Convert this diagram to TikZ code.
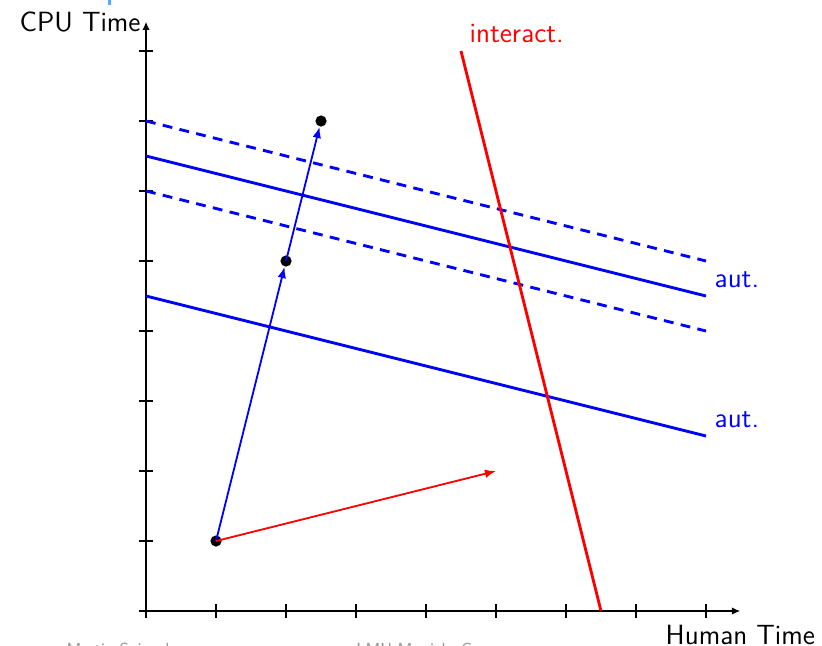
\documentclass[tikz,border=0pt]{standalone}
\usetikzlibrary{arrows.meta}
\definecolor{footgray}{RGB}{150,150,150}
\definecolor{titleblue}{RGB}{80,170,255}
\begin{document}
\begin{tikzpicture}[
  font=\sffamily\fontsize{11.3}{13.5}\selectfont,
  axisline/.style={line width=0.6pt,-{Latex[length=3.4pt,width=3pt]}},
  tickmark/.style={line width=0.6pt},
  dot/.style={circle,fill=black,inner sep=0pt,minimum size=0.16cm},
  autline/.style={blue,line width=1.15pt},
  autdash/.style={blue,line width=1.15pt,dash pattern=on 4pt off 3pt},
  interline/.style={red,line width=1.15pt},
  bluevec/.style={blue,line width=0.75pt,-{Latex[length=4.5pt,width=3.5pt]}},
  redvec/.style={red,line width=0.75pt,-{Latex[length=4.5pt,width=3.5pt]}},
  footer/.style={text=footgray,font=\sffamily\fontsize{6.5}{8}\selectfont,anchor=base}
]
\useasboundingbox (-2.086,-0.486) rectangle (9.657,8.729);
% fragment of title
\fill[titleblue] (-0.543,8.657) rectangle (-0.5,8.729);
% axes
\coordinate (O) at (0,0);
\coordinate (xend) at (8.49,0);
\coordinate (yend) at (0,8.42);
\draw[axisline] (O) -- (xend);
\draw[axisline] (O) -- (yend);
\foreach \i in {0,...,8} {
  \draw[tickmark] (\i,-0.1) -- (\i,0.1);
  \draw[tickmark] (-0.1,\i) -- (0.1,\i);
}
\node[left,inner sep=2pt] (ylab) at (yend) {CPU Time};
\node[below,inner sep=2pt] (xlab) at (8.49,-0.12) {Human Time};
% automatic lines
\coordinate (a1s) at (0,4.5); \coordinate (a1e) at (8,2.5);
\coordinate (a2s) at (0,6.5); \coordinate (a2e) at (8,4.5);
\coordinate (d1s) at (0,7);   \coordinate (d1e) at (8,5);
\coordinate (d2s) at (0,6);   \coordinate (d2e) at (8,4);
\draw[autdash] (d1s) -- (d1e);
\draw[autdash] (d2s) -- (d2e);
\draw[autline] (a1s) -- (a1e);
\draw[autline] (a2s) -- (a2e);
\node[above right,text=blue] (aut1) at (a2e) {aut.};
\node[above right,text=blue] (aut2) at (a1e) {aut.};
% interactive line
\coordinate (r1) at (4.5,8); \coordinate (r2) at (6.5,0);
\draw[interline] (r1) -- (r2);
\node[above right,text=red] (ilab) at (r1) {interact.};
% points and vectors
\node[dot] (p1) at (1,1) {};
\node[dot] (p2) at (2,5) {};
\node[dot] (p3) at (2.5,7) {};
\coordinate (rend) at (5,2);
\draw[bluevec] (p1.center) -- (p2);
\draw[bluevec] (p2.center) -- (p3);
\draw[redvec] (p1.center) -- (rend);
% footer (cut off)
\node[footer] (f1) at (-0.4,-0.615) {Martin Spiegel};
\node[footer] (f2) at (4.2,-0.615) {LMU Munich, Germany};
\end{tikzpicture}
\end{document}
